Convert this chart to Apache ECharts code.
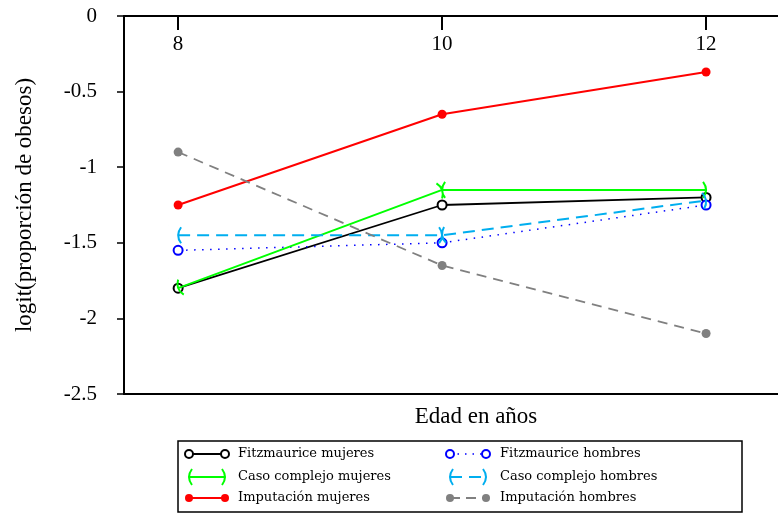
<!DOCTYPE html>
<html>
<head>
<meta charset="utf-8">
<script src="https://cdn.jsdelivr.net/npm/echarts@6/dist/echarts.min.js"></script>
<style>html,body{margin:0;padding:0;background:#fff}#c{width:778px;height:514px}</style>
</head>
<body>
<div id="c"></div>
<script>
// ---- data ----
const edades = [8, 10, 12];
const fitzMujeres = [-1.8, -1.25, -1.2];
const fitzHombres = [-1.55, -1.5, -1.25];
const casoMujeres = [-1.8, -1.15, -1.15];
const casoHombres = [-1.45, -1.45, -1.22];
const impMujeres = [-1.25, -0.65, -0.37];
const impHombres = [-0.9, -1.65, -2.1];
const seriesNames = ['Fitzmaurice mujeres', 'Fitzmaurice hombres', 'Caso complejo mujeres',
  'Caso complejo hombres', 'Imputación mujeres', 'Imputación hombres'];

// ---- styling helpers ----
const SERIF = 'Liberation Serif';
const XMIN = 7.59, XMAX = 12.545;
const anchor = ' M0,0 L0.01,0 M20,20 L20.01,20';
const L0 = 'M13,2 Q7,10 13,18';          // "(" horizontal
const R0 = 'M7,2 Q13,10 7,18';           // ")" horizontal
const symGreen = [
  'path://M10,1.45 Q7.19,11.06 15.63,16.43' + anchor,
  'path://M4.37,3.57 Q12.81,8.94 10.01,18.55 ' + L0 + anchor,
  'path://' + R0 + anchor
];
const symCyan = [
  'path://' + L0 + anchor,
  'path://' + R0 + ' M11.96,1.68 Q7.02,10.38 13.99,17.56' + anchor,
  'path://M6.01,2.45 Q12.98,9.62 8.04,18.32' + anchor
];
function pts(vals, syms) {
  return edades.map((x, i) => {
    const d = { value: [x, vals[i]] };
    if (syms) d.symbol = syms[i];
    return d;
  });
}
function circleSeries(name, vals, color, filled, lineType, width, z) {
  return {
    name, type: 'line', data: pts(vals), z,
    symbol: 'circle', symbolSize: 9,
    lineStyle: { color, width, type: lineType },
    itemStyle: filled ? { color, borderWidth: 0 } : { color: '#fff', borderColor: color, borderWidth: 2 }
  };
}
function arcSeries(name, vals, color, syms, lineType, z) {
  return {
    name, type: 'line', data: pts(vals, syms), z,
    symbolSize: 20,
    lineStyle: { color, width: 2, type: lineType },
    itemStyle: { color: 'rgba(0,0,0,0)', borderColor: color, borderWidth: 2 }
  };
}

// ---- legend drawn as graphic ----
const legendG = [];
legendG.push({ type: 'rect', shape: { x: 178, y: 441, width: 564, height: 71 },
  style: { fill: '#fff', stroke: '#000', lineWidth: 1.5 }, z: 100 });
const rows = [454, 477, 498];
const cols = [{ a: 189, b: 225, t: 238 }, { a: 450, b: 486, t: 500 }];
function legLine(c, y, color, dash, w) {
  legendG.push({ type: 'line', shape: { x1: c.a, y1: y, x2: c.b, y2: y },
    style: { stroke: color, lineWidth: w, lineDash: dash }, z: 101 });
}
function legCircles(c, y, color, filled) {
  [c.a, c.b].forEach(x => legendG.push({ type: 'circle', shape: { cx: x, cy: y, r: 4 },
    style: filled ? { fill: color } : { fill: '#fff', stroke: color, lineWidth: 2 }, z: 102 }));
}
function legArcs(c, y, color) {
  legendG.push({ type: 'bezierCurve', shape: { x1: c.a + 3, y1: y - 8, cpx1: c.a - 3, cpy1: y, x2: c.a + 3, y2: y + 8 },
    style: { stroke: color, lineWidth: 2, fill: null }, z: 102 });
  legendG.push({ type: 'bezierCurve', shape: { x1: c.b - 3, y1: y - 8, cpx1: c.b + 3, cpy1: y, x2: c.b - 3, y2: y + 8 },
    style: { stroke: color, lineWidth: 2, fill: null }, z: 102 });
}
function legText(c, y, txt) {
  legendG.push({ type: 'text', x: c.t, y: y, style: { text: txt, fill: '#000',
    font: '13px "DejaVu Serif"', verticalAlign: 'middle', align: 'left' }, z: 102 });
}
legLine(cols[0], rows[0], '#000', null, 2); legCircles(cols[0], rows[0], '#000', false); legText(cols[0], rows[0], seriesNames[0]);
legLine(cols[1], rows[0], '#0000ff', [1.5, 6], 1.5); legCircles(cols[1], rows[0], '#0000ff', false); legText(cols[1], rows[0], seriesNames[1]);
legLine(cols[0], rows[1], '#00ff00', null, 2); legArcs(cols[0], rows[1], '#00ff00'); legText(cols[0], rows[1], seriesNames[2]);
legLine(cols[1], rows[1], '#00aeef', [12, 7], 2); legArcs(cols[1], rows[1], '#00aeef'); legText(cols[1], rows[1], seriesNames[3]);
legLine(cols[0], rows[2], '#ff0000', null, 2); legCircles(cols[0], rows[2], '#ff0000', true); legText(cols[0], rows[2], seriesNames[4]);
legLine(cols[1], rows[2], '#808080', [10, 6], 2); legCircles(cols[1], rows[2], '#808080', true); legText(cols[1], rows[2], seriesNames[5]);

const chart = echarts.init(document.getElementById('c'));
chart.setOption({
  animation: false,
  backgroundColor: '#fff',
  grid: { left: 124, right: 0, top: 16, bottom: 120, containLabel: false },
  xAxis: [{
    type: 'value', position: 'top', min: XMIN, max: XMAX,
    axisLine: { show: true, lineStyle: { color: '#000', width: 2 } },
    axisTick: { show: true, inside: true, length: 14, lineStyle: { color: '#000', width: 2 }, customValues: edades },
    axisLabel: { inside: true, margin: 18, color: '#000', fontFamily: SERIF, fontSize: 21, customValues: edades },
    splitLine: { show: false }
  }, {
    type: 'value', position: 'bottom', min: XMIN, max: XMAX,
    axisLine: { show: true, onZero: false, lineStyle: { color: '#000', width: 2 } },
    axisTick: { show: false }, axisLabel: { show: false }, splitLine: { show: false },
    name: 'Edad en años', nameLocation: 'middle', nameGap: 11,
    nameTextStyle: { color: '#000', fontFamily: SERIF, fontSize: 23, verticalAlign: 'top', padding: [0, 0, 0, 50] }
  }],
  yAxis: {
    type: 'value', min: -2.5, max: 0, interval: 0.5,
    axisLine: { show: true, onZero: false, lineStyle: { color: '#000', width: 2 } },
    axisTick: { show: true, length: 7, lineStyle: { color: '#000', width: 1.5 } },
    axisLabel: { margin: 27, color: '#000', fontFamily: SERIF, fontSize: 21 },
    splitLine: { show: false },
    name: 'logit(proporción de obesos)', nameLocation: 'middle', nameGap: 88, nameRotate: 90,
    nameTextStyle: { color: '#000', fontFamily: SERIF, fontSize: 23 }
  },
  series: [
    circleSeries(seriesNames[0], fitzMujeres, '#000000', false, 'solid', 1.8, 2),
    circleSeries(seriesNames[1], fitzHombres, '#0000ff', false, [1.5, 6.5], 1.5, 3),
    arcSeries(seriesNames[2], casoMujeres, '#00ff00', symGreen, 'solid', 4),
    arcSeries(seriesNames[3], casoHombres, '#00aeef', symCyan, [12, 7], 5),
    circleSeries(seriesNames[4], impMujeres, '#ff0000', true, 'solid', 2, 6),
    circleSeries(seriesNames[5], impHombres, '#808080', true, [10, 7], 1.8, 7)
  ],
  graphic: legendG
});
</script>
</body>
</html>
